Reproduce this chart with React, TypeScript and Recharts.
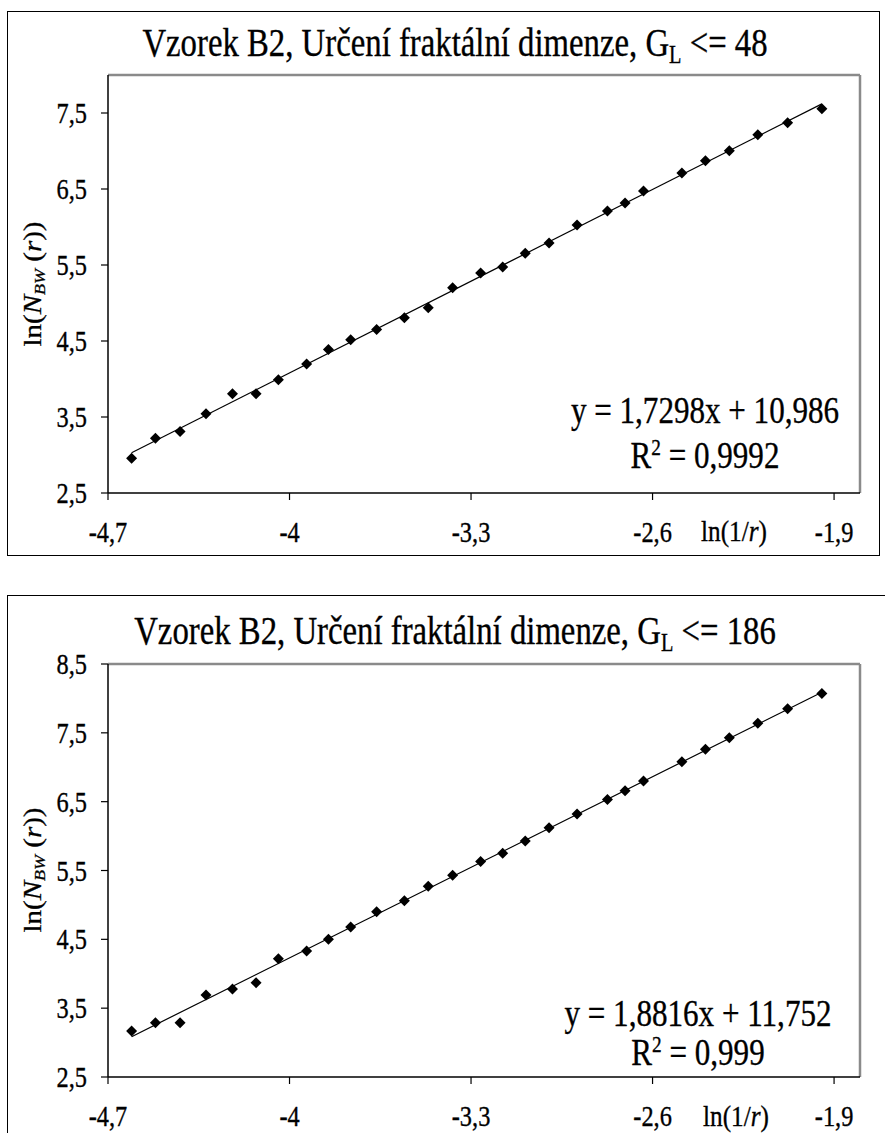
import React from 'react';
import { ScatterChart, Scatter, XAxis, YAxis, ReferenceLine } from 'recharts';

// ---------- data ----------
const xValues = [-4.609, -4.517, -4.422, -4.322, -4.22, -4.129, -4.043, -3.934, -3.85, -3.764, -3.664, -3.557, -3.465, -3.371, -3.263, -3.178, -3.091, -2.999, -2.891, -2.774, -2.706, -2.635, -2.487, -2.396, -2.304, -2.194, -2.079, -1.947];
const y48 = [2.958, 3.222, 3.309, 3.542, 3.806, 3.806, 3.991, 4.198, 4.387, 4.518, 4.65, 4.805, 4.937, 5.201, 5.396, 5.475, 5.653, 5.789, 6.026, 6.211, 6.317, 6.475, 6.712, 6.871, 7.003, 7.214, 7.372, 7.557];
const y186 = [3.169, 3.289, 3.289, 3.692, 3.779, 3.871, 4.219, 4.33, 4.5, 4.68, 4.9, 5.06, 5.27, 5.43, 5.63, 5.75, 5.93, 6.12, 6.32, 6.53, 6.66, 6.8, 7.08, 7.26, 7.43, 7.64, 7.85, 8.07];
const trendX = [-4.609, -1.947];
const trend48Y = [3.03, 7.62];
const trend186Y = [3.086, 8.09];
const xTicks = [-4.7, -4, -3.3, -2.6, -1.9];
const yTicks48 = [2.5, 3.5, 4.5, 5.5, 6.5, 7.5];
const yTicks186 = [2.5, 3.5, 4.5, 5.5, 6.5, 7.5, 8.5];

const FONT = '"Liberation Serif", "Times New Roman", serif';
const SX = 0.84;

const fmt = (v: number) => String(v).replace('.', ',');

const Diamond = (props: any) => {
  const { cx, cy } = props;
  if (cx == null || cy == null) return <g />;
  const s = 5.5;
  return <path d={`M${cx},${cy - s}L${cx + s},${cy}L${cx},${cy + s}L${cx - s},${cy}Z`} fill="#000" />;
};
const NoShape = () => <g />;

const XTick = (props: any) => {
  const { x, y, payload } = props;
  return (
    <text x={0} y={0} transform={`translate(${x},${y + 40}) scale(${SX},1)`} textAnchor="middle" fontFamily={FONT} fontSize={29} fill="#000" stroke="#000" strokeWidth={0.35}>
      {fmt(payload.value)}
    </text>
  );
};
const YTick = (props: any) => {
  const { x, y, payload } = props;
  return (
    <text x={0} y={0} transform={`translate(${x - 12},${y + 10}) scale(${SX},1)`} textAnchor="end" fontFamily={FONT} fontSize={29} fill="#000" stroke="#000" strokeWidth={0.35}>
      {fmt(payload.value)}
    </text>
  );
};

const Txt = ({ x, y, size, children, rotate }: any) => (
  <div
    style={{
      position: 'absolute',
      left: x,
      top: y,
      transform: `translate(-50%,-50%) scaleX(${SX})${rotate ? ' rotate(-90deg)' : ''}`,
      fontFamily: FONT,
      fontSize: size,
      lineHeight: 1,
      whiteSpace: 'nowrap',
      color: '#000',
      WebkitTextStroke: '0.35px #000',
    }}
  >
    {children}
  </div>
);

const sub = { fontSize: '0.62em', position: 'relative' as const, top: '0.28em' };
const sup = { fontSize: '0.62em', position: 'relative' as const, top: '-0.55em' };

function Plot({ top, height, plotTop, plotBottom, yDomain, yTicks, ys, trendY }: any) {
  const pts = xValues.map((x, i) => ({ x, y: ys[i] }));
  const trend = trendX.map((x, i) => ({ x, y: trendY[i] }));
  return (
    <div style={{ position: 'absolute', left: 0, top, width: 885, height }}>
      <ScatterChart width={885} height={height} margin={{ top: plotTop, right: 25, left: 48, bottom: height - plotBottom - 40 }}>
        <XAxis
          type="number"
          dataKey="x"
          domain={[-4.7, -1.8]}
          ticks={xTicks}
          interval={0}
          allowDataOverflow
          height={40}
          tickSize={7}
          tickLine={{ stroke: '#000', strokeWidth: 1.2 }}
          axisLine={{ stroke: '#000', strokeWidth: 1.5 }}
          tick={<XTick />}
        />
        <YAxis
          type="number"
          dataKey="y"
          domain={yDomain}
          ticks={yTicks}
          interval={0}
          allowDataOverflow
          width={60}
          tickSize={7}
          tickLine={{ stroke: '#000', strokeWidth: 1.2 }}
          axisLine={{ stroke: '#000', strokeWidth: 1.5 }}
          tick={<YTick />}
        />
        <ReferenceLine y={yDomain[1]} stroke="#8a8a8a" strokeWidth={2.5} />
        <ReferenceLine x={-1.8} stroke="#8a8a8a" strokeWidth={2.5} />
        <Scatter data={trend} line={{ stroke: '#000', strokeWidth: 1.2 }} shape={<NoShape />} isAnimationActive={false} />
        <Scatter data={pts} shape={<Diamond />} isAnimationActive={false} />
      </ScatterChart>
    </div>
  );
}

export default function App() {
  return (
    <div style={{ position: 'absolute', left: 0, top: 0, width: 885, height: 1133, overflow: 'hidden', background: '#fff' }}>
      {/* chart 1 */}
      <div style={{ position: 'absolute', left: 7, top: 11, width: 873, height: 545, border: '1.5px solid #000', boxSizing: 'border-box' }} />
      <Plot top={0} height={560} plotTop={75} plotBottom={493} yDomain={[2.5, 8]} yTicks={yTicks48} ys={y48} trendY={trend48Y} />
      <Txt x={455} y={42} size={39}>
        Vzorek B2, Určení fraktální dimenze, G<span style={sub}>L</span> {'<='} 48
      </Txt>
      <Txt x={33} y={284} size={29} rotate>
        ln(<i>N</i>
        <span style={sub}><i>BW</i></span> (<i>r</i>))
      </Txt>
      <Txt x={734} y={531} size={30}>
        ln(1/<i>r</i>)
      </Txt>
      <Txt x={705} y={410} size={37}>
        y = 1,7298x + 10,986
      </Txt>
      <Txt x={705} y={455} size={37}>
        R<span style={sup}>2</span> = 0,9992
      </Txt>

      {/* chart 2 */}
      <div style={{ position: 'absolute', left: 7, top: 595, width: 900, height: 600, border: '1.5px solid #000', boxSizing: 'border-box' }} />
      <Plot top={580} height={553} plotTop={84} plotBottom={497} yDomain={[2.5, 8.5]} yTicks={yTicks186} ys={y186} trendY={trend186Y} />
      <Txt x={455} y={630} size={39}>
        Vzorek B2, Určení fraktální dimenze, G<span style={sub}>L</span> {'<='} 186
      </Txt>
      <Txt x={33} y={870} size={29} rotate>
        ln(<i>N</i>
        <span style={sub}><i>BW</i></span> (<i>r</i>))
      </Txt>
      <Txt x={736} y={1116} size={30}>
        ln(1/<i>r</i>)
      </Txt>
      <Txt x={698} y={1013} size={37}>
        y = 1,8816x + 11,752
      </Txt>
      <Txt x={698} y={1052} size={37}>
        R<span style={sup}>2</span> = 0,999
      </Txt>
    </div>
  );
}
